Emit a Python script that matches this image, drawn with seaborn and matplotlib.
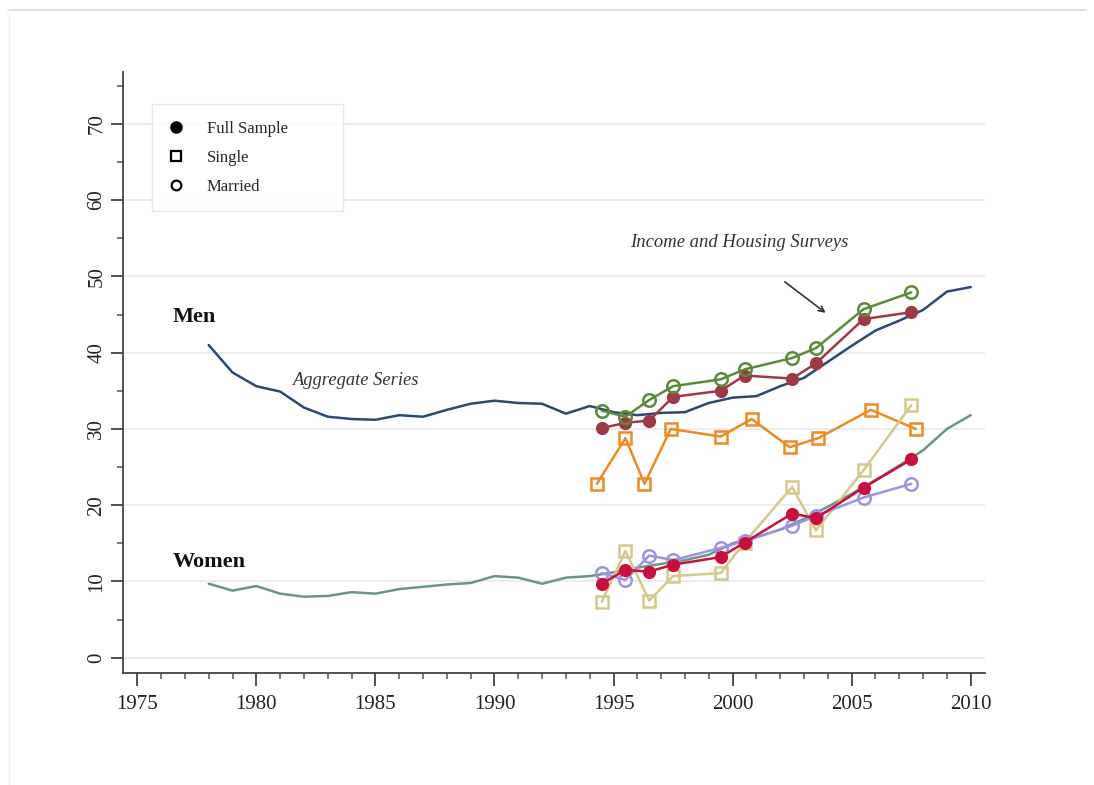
import numpy as np
import pandas as pd
import matplotlib
matplotlib.use("Agg")
import matplotlib.pyplot as plt
from matplotlib.lines import Line2D
import seaborn as sns

# aggregate series
agg_years = list(range(1978, 2011))
men_agg = [41.0, 37.4, 35.6, 34.9, 32.8, 31.6, 31.3, 31.2, 31.8, 31.6, 32.5,
           33.3, 33.7, 33.4, 33.3, 32.0, 33.0, 32.2, 31.8, 32.1, 32.2, 33.4,
           34.1, 34.3, 35.6, 36.7, 38.8, 40.9, 42.9, 44.2, 45.6, 48.0, 48.6]
women_agg = [9.7, 8.8, 9.4, 8.4, 8.0, 8.1, 8.6, 8.4, 9.0, 9.3, 9.6,
             9.8, 10.7, 10.5, 9.7, 10.5, 10.7, 11.2, 11.8, 12.3, 12.8, 13.5,
             15.0, 15.8, 16.8, 18.2, 19.8, 21.5, 23.3, 25.2, 27.2, 30.0, 31.8]

# income and housing surveys
survey_years = [1994.5, 1995.5, 1996.5, 1997.5, 1999.5, 2000.5, 2002.5, 2003.5, 2005.5, 2007.5]
survey_years_men_single = [1994.3, 1995.5, 1996.3, 1997.4, 1999.5, 2000.8, 2002.4, 2003.6, 2005.8, 2007.7]

men_married = [32.4, 31.6, 33.8, 35.6, 36.5, 37.8, 39.3, 40.6, 45.7, 47.9]
men_full = [30.1, 30.8, 31.1, 34.2, 35.0, 37.0, 36.6, 38.6, 44.4, 45.3]
men_single = [22.8, 28.8, 22.8, 30.0, 29.0, 31.3, 27.6, 28.8, 32.5, 30.0]
women_full = [9.7, 11.5, 11.3, 12.2, 13.2, 15.1, 18.9, 18.3, 22.3, 26.0]
women_single = [7.3, 14.0, 7.5, 10.7, 11.1, 15.1, 22.4, 16.7, 24.6, 33.1]
women_married = [11.1, 10.2, 13.4, 12.8, 14.4, 15.3, 17.3, 18.6, 21.0, 22.8]

sns.set_style("white")
plt.rcParams["font.family"] = ["Liberation Serif", "DejaVu Serif"]

fig = plt.figure(figsize=(10.94, 7.85), dpi=100)
ax = fig.add_axes([0.1124, 0.1427, 0.788, 0.7656])

ax.yaxis.grid(True, color="#e6e9ec", linewidth=1.2)
ax.set_axisbelow(True)

sns.lineplot(x=agg_years, y=men_agg, color="#2b4a6f", linewidth=1.8, ax=ax)
sns.lineplot(x=agg_years, y=women_agg, color="#6a9686", linewidth=1.8, ax=ax)

filled = dict(marker="o", markersize=9.5, markeredgewidth=0)
open_sq = dict(marker="s", markersize=8.5, markerfacecolor="none", markeredgewidth=1.8)
open_ci = dict(marker="o", markersize=9, markerfacecolor="none", markeredgewidth=1.8)

sns.lineplot(x=survey_years_men_single, y=men_single, color="#ec8a23", linewidth=1.8,
             markeredgecolor="#ec8a23", ax=ax, **open_sq)
sns.lineplot(x=survey_years, y=men_full, color="#9e3a48", linewidth=1.8, ax=ax, **filled)
sns.lineplot(x=survey_years, y=men_married, color="#5a8a3a", linewidth=1.8,
             markeredgecolor="#5a8a3a", ax=ax, **open_ci)

sns.lineplot(x=survey_years, y=women_single, color="#d4c98b", linewidth=1.8,
             markeredgecolor="#d4c98b", ax=ax, **open_sq)
sns.lineplot(x=survey_years, y=women_married, color="#9d93e0", linewidth=1.8,
             markeredgecolor="#9d93e0", ax=ax, **open_ci)
sns.lineplot(x=survey_years, y=women_full, color="#c8103e", linewidth=1.8, ax=ax, **filled)

ax.set_xlim(1974.4, 2010.6)
ax.set_ylim(-2.0, 76.8)
ax.set_xticks([1975, 1980, 1985, 1990, 1995, 2000, 2005, 2010])
ax.set_xticks(range(1975, 2011), minor=True)
ax.set_yticks(range(0, 71, 10))
ax.set_yticks(range(5, 76, 10), minor=True)
ax.set_yticklabels([str(v) for v in range(0, 71, 10)], rotation=90, va="center")

for s in ["top", "right"]:
    ax.spines[s].set_visible(False)
for s in ["left", "bottom"]:
    ax.spines[s].set_color("#444444")
    ax.spines[s].set_linewidth(1.3)

ax.tick_params(axis="x", which="both", bottom=True)
ax.tick_params(axis="y", which="both", left=True)
ax.tick_params(axis="both", which="major", direction="out", length=9, width=1.3,
               color="#444444", labelsize=15, labelcolor="#222222")
ax.tick_params(axis="both", which="minor", direction="out", length=4.5, width=1.1, color="#555555")
ax.tick_params(axis="y", which="major", pad=3)
ax.tick_params(axis="x", which="major", pad=7)

ax.text(1976.5, 44.7, "Men", fontsize=16, fontweight="bold", va="center", color="#111111")
ax.text(1976.5, 12.5, "Women", fontsize=16, fontweight="bold", va="center", color="#111111")
ax.text(1981.5, 36.3, "Aggregate Series", fontsize=13.3, style="italic", va="center", color="#333333")
ax.text(1995.7, 54.4, "Income and Housing Surveys", fontsize=13.4, style="italic", va="center", color="#333333")
ax.annotate("", xy=(2004.0, 45.0), xytext=(2002.1, 49.5),
            arrowprops=dict(arrowstyle="->", color="#333333", lw=1.2))

handles = [
    Line2D([], [], color="black", marker="o", linestyle="none", markersize=8),
    Line2D([], [], color="black", marker="s", linestyle="none", markersize=7,
           markerfacecolor="none", markeredgewidth=1.6),
    Line2D([], [], color="black", marker="o", linestyle="none", markersize=7,
           markerfacecolor="none", markeredgewidth=1.6),
]
leg = ax.legend(handles, ["Full Sample", "Single", "Married"], loc="upper left",
                bbox_to_anchor=(0.0336, 0.0, 0.2216, 0.947), mode="expand",
                fontsize=12, frameon=True, fancybox=False, borderpad=1.0,
                labelspacing=0.78, handlelength=0.9, handletextpad=1.4,
                borderaxespad=0)
leg.get_frame().set_edgecolor("#e3e3e3")
leg.get_frame().set_linewidth(1.0)

fig.add_artist(Line2D([0.007, 0.993], [0.987, 0.987], color="#d8d8d8", linewidth=1.2))
fig.add_artist(Line2D([0.008, 0.008], [0.0, 0.987], color="#f0f0f0", linewidth=1.0))

fig.savefig("out.png", dpi=100)
plt.close(fig)
